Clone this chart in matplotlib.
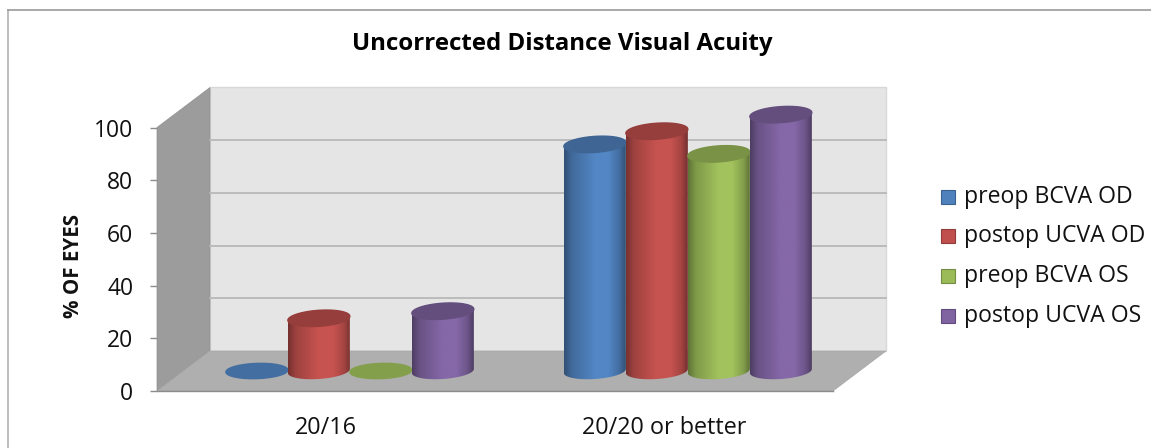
import matplotlib
matplotlib.use('Agg')
import matplotlib.pyplot as plt
import matplotlib.colors as mcolors
from matplotlib.patches import Polygon, Rectangle
import numpy as np

plt.rcParams['font.family'] = ['Open Sans', 'DejaVu Sans']

categories = ['20/16', '20/20 or better']
series_names = ['preop BCVA OD', 'postop UCVA OD', 'preop BCVA OS', 'postop UCVA OS']
preop_od = [0, 86]
postop_od = [20, 91]
preop_os = [0, 82.4]
postop_os = [22.7, 97.3]
y_ticks = [0, 20, 40, 60, 80, 100]

series_values = [preop_od, postop_od, preop_os, postop_os]
colors = ['#4f81bd', '#c0504d', '#9bbb59', '#8064a2']

W, H = 1151, 448
fig = plt.figure(figsize=(W / 100, H / 100), dpi=100, facecolor='white')

# front plane of the 3D box
left, right, bottom, top = 157, 833, 391, 127.5
ax = fig.add_axes([left / W, 1 - bottom / H, (right - left) / W, (bottom - top) / H])
ax.set_xlim(0, 2)
ax.set_ylim(0, 100)
ax.patch.set_visible(False)
for s in ax.spines.values():
    s.set_visible(False)

# depth of the box in data units
px_x = 2 / (right - left)
px_y = 100 / (bottom - top)
dx = 53 * px_x
dy = 40 * px_y

# back wall, side wall, floor
ax.add_patch(Polygon([(dx, dy), (2 + dx, dy), (2 + dx, 100 + dy), (dx, 100 + dy)],
                     facecolor='#e5e5e5', edgecolor='#d8d8d8', lw=1, clip_on=False, zorder=1))
ax.add_patch(Polygon([(0, 0), (dx, dy), (dx, 100 + dy), (0, 100)],
                     facecolor='#9c9c9c', edgecolor='#909090', lw=0.5, clip_on=False, zorder=1))
ax.add_patch(Polygon([(0, 0), (2, 0), (2 + dx, dy), (dx, dy)],
                     facecolor='#afafaf', edgecolor='#a8a8a8', lw=0.5, clip_on=False, zorder=1))

# gridlines on the back wall
for t in y_ticks[1:5]:
    ax.plot([dx, 2 + dx], [t + dy, t + dy], color='#b8b8b8', lw=1.3, clip_on=False, zorder=2)

ax.set_yticks(y_ticks)
ax.set_xticks([0.5, 1.5])
ax.set_xticklabels(categories, fontsize=16.8, color='#111111')
ax.tick_params(axis='y', length=5, width=1, color='#8c8c8c', labelsize=16.5, pad=12, labelcolor='#111111')
ax.tick_params(axis='x', length=0, pad=18)
ax.plot([0, 2], [0, 0], color='#8c8c8c', lw=1, clip_on=False, zorder=3)
ax.set_ylabel('% OF EYES', fontsize=14.8, fontweight='bold', labelpad=0, color='#111111')
ax.yaxis.set_label_coords((84 - left) / (right - left), 0.475)


def shade(hex_color):
    # horizontal lighting across a cylinder
    base = np.array(mcolors.to_rgb(hex_color))
    pos = np.linspace(0, 1, 64)
    factor = np.interp(pos, [0, 0.12, 0.5, 0.72, 0.9, 1], [0.62, 0.82, 1.04, 1.04, 0.85, 0.62])
    return np.clip(base[None, None, :] * factor[None, :, None], 0, 1)


def ellipse_points(cx, cy, a, b, skew, t):
    return cx + a * np.cos(t), cy + b * np.sin(t) + skew * np.cos(t)


def draw_cylinder(cx, value, color, z):
    a = 31 * px_x
    b = 8 * px_y
    skew = 2 * px_y
    base_y = dy / 2
    top_y = base_y + value
    dark = np.array(mcolors.to_rgb(color)) * 0.78

    if value == 0:
        # flat disc for an empty bar
        xs, ys = ellipse_points(cx, base_y, a, b * 0.95, skew * 0.5, np.linspace(0, 2 * np.pi, 80))
        ax.fill(xs, ys, color=np.array(mcolors.to_rgb(color)) * 0.85, clip_on=False, zorder=z)
        return

    t_low = np.linspace(np.pi, 2 * np.pi, 50)
    t_up = np.linspace(0, np.pi, 50)
    x1, y1 = ellipse_points(cx, base_y, a, b, skew, t_low)
    x2, y2 = ellipse_points(cx, top_y, a, b, skew, t_up)
    body = Polygon(np.column_stack([np.r_[x1, x2], np.r_[y1, y2]]), closed=True,
                   transform=ax.transData, facecolor='none', edgecolor='none')
    ax.add_patch(body)
    img = ax.imshow(shade(color), extent=[cx - a, cx + a, base_y - b - skew, top_y + b + skew],
                    aspect='auto', zorder=z, interpolation='bilinear')
    img.set_clip_path(body)
    img.set_clip_box(fig.bbox)
    xt, yt = ellipse_points(cx, top_y, a, b, skew, np.linspace(0, 2 * np.pi, 80))
    ax.fill(xt, yt, color=dark, clip_on=False, zorder=z + 0.1)


for c in range(len(categories)):
    for i, vals in enumerate(series_values):
        center = c + 0.5 + (i - 1.5) * 62 * px_x + dx * 0.45
        draw_cylinder(center, vals[c], colors[i], 10 + c * 5 + i)

ax.set_xlim(0, 2)
ax.set_ylim(0, 100)

fig.text(562.5 / W, 1 - 44 / H, 'Uncorrected Distance Visual Acuity', fontsize=17.3, fontweight='bold',
         ha='center', va='center', color='#000000')

# legend keys and labels
legend_y = [197, 236, 276, 316]
for name, col, ly in zip(series_names, colors, legend_y):
    fig.patches.append(Rectangle((941 / W, 1 - (ly + 7) / H), 14 / W, 14 / H, transform=fig.transFigure,
                                 facecolor=col, edgecolor=np.array(mcolors.to_rgb(col)) * 0.75, lw=0.8))
    fig.text(964 / W, 1 - ly / H, name, fontsize=16.6, va='center', ha='left', color='#111111')

# chart frame, left and top edges
fig.add_artist(plt.Line2D([8 / W, 8 / W], [0, 1 - 10.5 / H], color='#b8b8b8', lw=1.3))
fig.add_artist(plt.Line2D([8 / W, 1151 / W], [1 - 10.5 / H, 1 - 10.5 / H], color='#999999', lw=1.2))

fig.savefig('out.png', dpi=100)
